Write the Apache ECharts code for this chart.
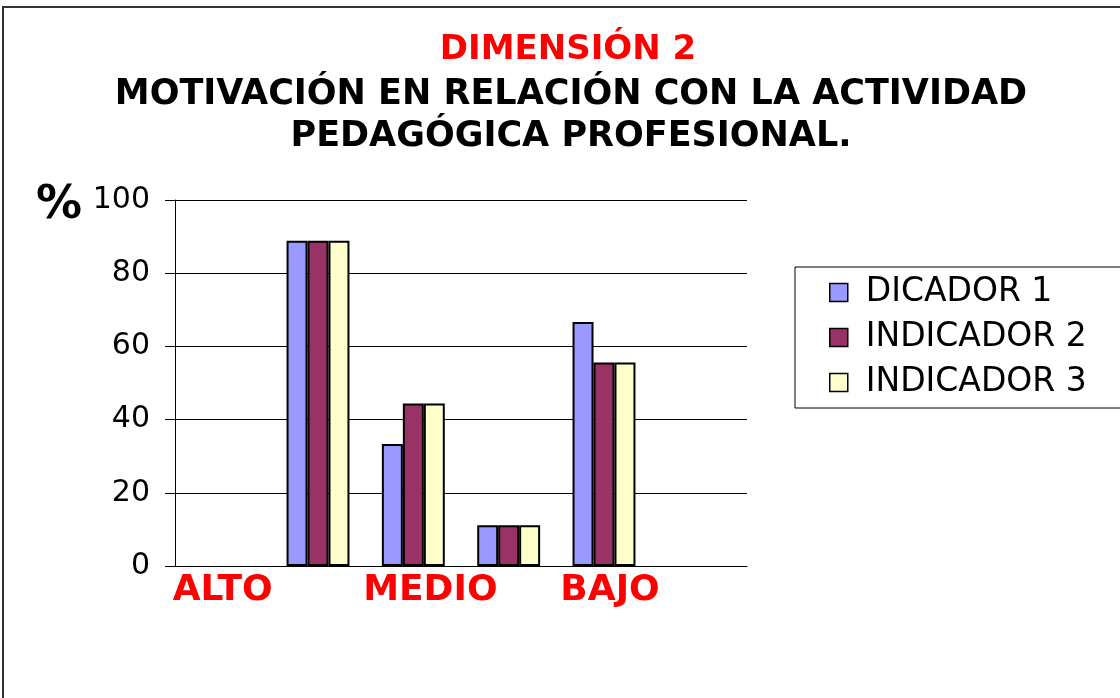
<!DOCTYPE html>
<html>
<head>
<meta charset="utf-8">
<style>
  html, body { margin: 0; padding: 0; background: #fff; }
  #chart { width: 1120px; height: 698px; }
</style>
<script src="https://cdn.jsdelivr.net/npm/echarts@6/dist/echarts.min.js"></script>
</head>
<body>
<div id="chart"></div>
<script>
// categories (ALTO / MEDIO / BAJO labels sit under every other slot)
var categories = ['ALTO', '', 'MEDIO', '', 'BAJO', '']
var seriesNames = ['DICADOR 1', 'INDICADOR 2', 'INDICADOR 3']
var indicador1 = [null, 88.9, 33.3, 11.1, 66.7, null]
var indicador2 = [null, 88.9, 44.4, 11.1, 55.6, null]
var indicador3 = [null, 88.9, 44.4, 11.1, 55.6, null]
var yTicks = [0, 20, 40, 60, 80, 100]

var colors = ['#9999ff', '#993366', '#ffffcc']
var font = 'DejaVu Sans'

var chart = echarts.init(document.getElementById('chart'))

function barSeries(name, data, color) {
  return {
    name: name,
    type: 'bar',
    data: data,
    barGap: 0,
    barCategoryGap: '34%',
    itemStyle: {
      color: color,
      borderColor: '#000',
      borderWidth: 2
    },
    animation: false
  }
}

chart.setOption({
  backgroundColor: '#fff',
  title: [
    {
      text: 'DIMENSIÓN 2',
      left: 563,
      top: 28,
      textAlign: 'center',
      textStyle: {
        color: '#ff0000',
        fontFamily: font,
        fontWeight: 'bold',
        fontSize: 34
      }
    },
    {
      text: 'MOTIVACIÓN EN RELACIÓN CON LA ACTIVIDAD\nPEDAGÓGICA PROFESIONAL.',
      left: 566,
      top: 69,
      textAlign: 'center',
      textStyle: {
        color: '#000',
        fontFamily: font,
        fontWeight: 'bold',
        fontSize: 35,
        lineHeight: 42
      }
    }
  ],
  graphic: [
    {
      // outer frame of the picture
      type: 'rect',
      silent: true,
      shape: { x: 3, y: 7, width: 1300, height: 900 },
      style: { fill: null, stroke: '#333', lineWidth: 2 }
    }
  ],
  legend: {
    data: seriesNames,
    orient: 'vertical',
    left: 795,
    top: 267,
    padding: [9, 80, 9, 34],
    itemGap: 12,
    itemWidth: 18,
    itemHeight: 18,
    icon: 'rect',
    itemStyle: { borderColor: '#000', borderWidth: 1.5 },
    borderColor: '#000',
    borderWidth: 1,
    textStyle: {
      fontFamily: font,
      fontSize: 33,
      color: '#000',
      lineHeight: 33,
      padding: [0, 0, 0, 13]
    }
  },
  grid: {
    left: 175,
    right: 373,
    top: 200,
    bottom: 132
  },
  xAxis: {
    type: 'category',
    data: categories,
    axisLine: { lineStyle: { color: '#000', width: 1 } },
    axisTick: { show: false },
    axisLabel: {
      interval: 0,
      margin: 7,
      formatter: function (v) {
        if (v === 'MEDIO') return '{b|' + v + '}'
        if (v === 'BAJO') return '{c|' + v + '}'
        return '{a|' + v + '}'
      },
      rich: {
        a: { color: '#ff0000', fontFamily: font, fontWeight: 'bold', fontSize: 36 },
        b: { color: '#ff0000', fontFamily: font, fontWeight: 'bold', fontSize: 36, padding: [0, 0, 0, 34] },
        c: { color: '#ff0000', fontFamily: font, fontWeight: 'bold', fontSize: 36, padding: [0, 0, 0, 12] }
      }
    }
  },
  yAxis: {
    type: 'value',
    min: yTicks[0],
    max: yTicks[yTicks.length - 1],
    interval: 20,
    name: '%',
    nameLocation: 'end',
    nameGap: -6,
    nameTextStyle: {
      fontFamily: font,
      fontWeight: 'bold',
      fontSize: 46,
      color: '#000',
      align: 'right',
      verticalAlign: 'middle',
      padding: [0, 93, 0, 0]
    },
    axisLine: { show: true, lineStyle: { color: '#000', width: 1 } },
    axisTick: { show: true, length: 10, lineStyle: { color: '#000' } },
    axisLabel: {
      margin: 25,
      fontFamily: font,
      fontSize: 30,
      color: '#000'
    },
    splitLine: { lineStyle: { color: '#000', width: 1 } }
  },
  series: [
    barSeries(seriesNames[0], indicador1, colors[0]),
    barSeries(seriesNames[1], indicador2, colors[1]),
    barSeries(seriesNames[2], indicador3, colors[2])
  ]
})
</script>
</body>
</html>
